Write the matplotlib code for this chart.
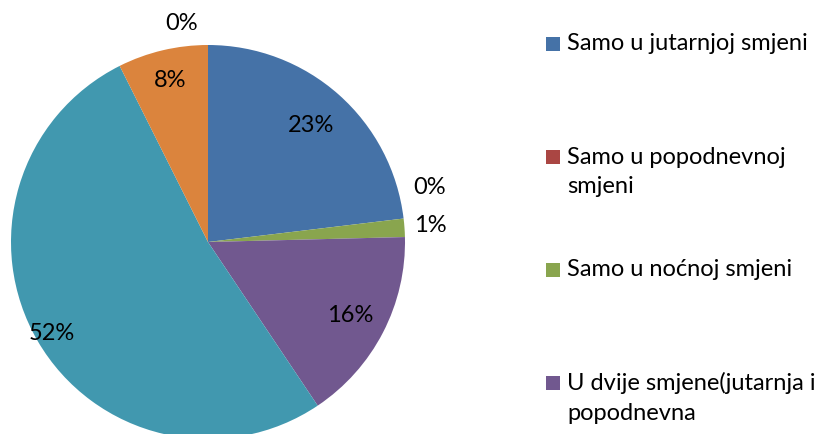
import numpy as np
import matplotlib.pyplot as plt
from matplotlib.patches import Rectangle

categories = ["Samo u jutarnjoj smjeni", "Samo u popodnevnoj\nsmjeni", "Samo u noćnoj smjeni",
              "U dvije smjene(jutarnja i\npopodnevna", "U dvije smjene(jutarnja i\nnoćna",
              "U tri smjene", "Ostalo"]
values = [23.1, 0.0, 1.5, 16.0, 52.0, 7.4, 0.0]
pct_labels = ["23%", "0%", "1%", "16%", "52%", "8%", "0%"]
colors = ["#4572A7", "#AA4643", "#89A54E", "#71588F", "#4198AF", "#DB843D", "#93A9CF"]
# radial distance of each percentage label (fraction of radius)
label_r = [0.79, 1.16, 1.13, 0.81, 0.92, 0.84, 1.12]

plt.rcParams['font.family'] = ['Lato', 'DejaVu Sans']
FS = 17

W, H = 834, 434
fig = plt.figure(figsize=(W / 100, H / 100), dpi=100)
cx, cy, r = 208, 242, 197
ax = fig.add_axes([(cx - r) / W, (H - cy - r) / H, 2 * r / W, 2 * r / H])
wedges, _ = ax.pie(values, colors=colors, startangle=90, counterclock=False,
                   radius=1.0, wedgeprops=dict(linewidth=0))
ax.set_xlim(-1, 1)
ax.set_ylim(-1, 1)
ax.set_aspect('equal')
ax.axis('off')

for w, lab, rr in zip(wedges, pct_labels, label_r):
    ang = np.deg2rad((w.theta1 + w.theta2) / 2)
    if w.theta1 == w.theta2 and abs(w.theta1 - 90) > 1:
        ang = np.deg2rad(w.theta1 + 7)
    ax.text(rr * np.cos(ang), rr * np.sin(ang), lab, ha='center', va='center',
            fontsize=FS, color='black', clip_on=False)

# legend drawn by hand (the lower entries fall outside the picture)
lx, ly0, step = 546, 44, 113
for i, (name, col) in enumerate(zip(categories, colors)):
    y = ly0 + i * step
    if y > H:
        break
    fig.patches.append(Rectangle((lx / W, (H - y - 7) / H), 14 / W, 14 / H,
                                 facecolor=col, edgecolor='none',
                                 transform=fig.transFigure))
    for j, ln in enumerate(name.split('\n')):
        fig.text(567 / W, (H - y - 30 * j) / H, ln, ha='left', va='center',
                 fontsize=FS, color='black')

fig.savefig("out.png", dpi=100)
